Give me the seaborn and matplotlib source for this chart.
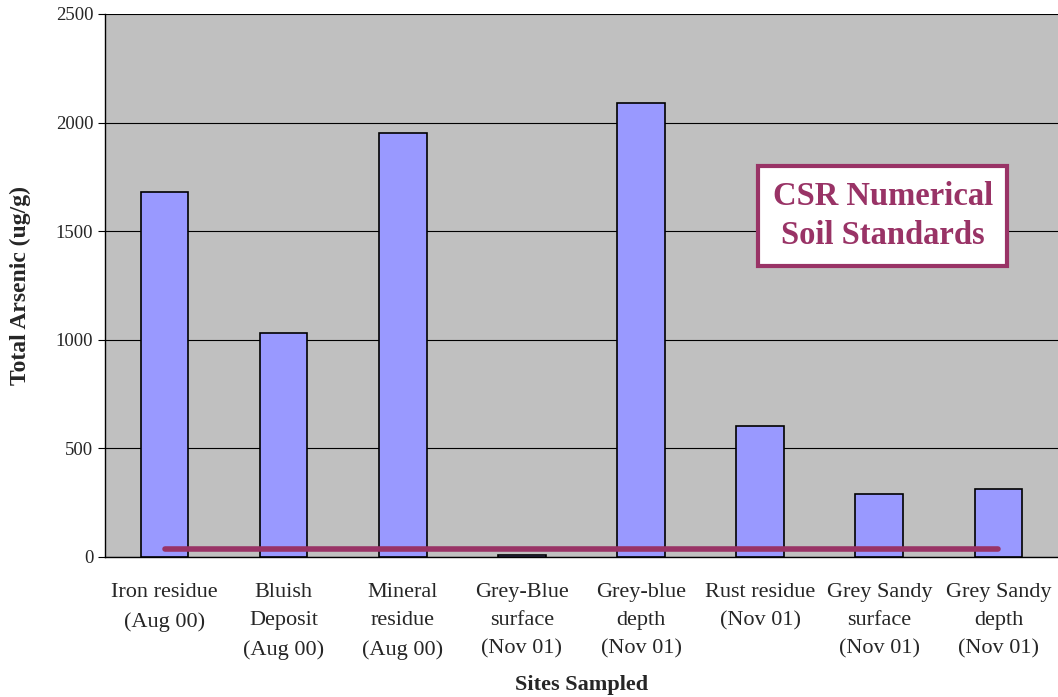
import numpy as np
import pandas as pd
import matplotlib
matplotlib.use("Agg")
import matplotlib.pyplot as plt
import seaborn as sns

sites = ["Iron residue\n(Aug 00)", "Bluish\nDeposit\n(Aug 00)", "Mineral\nresidue\n(Aug 00)",
         "Grey-Blue\nsurface\n(Nov 01)", "Grey-blue\ndepth\n(Nov 01)", "Rust residue\n(Nov 01)",
         "Grey Sandy\nsurface\n(Nov 01)", "Grey Sandy\ndepth\n(Nov 01)"]
arsenic = [1680, 1030, 1950, 8, 2090, 603, 290, 315]
csr_standard = [37] * len(sites)

df = pd.DataFrame({"Site": sites, "Arsenic": arsenic})

sns.set_style("white")
plt.rcParams['font.family'] = ['Liberation Serif', 'DejaVu Serif']

fig = plt.figure(figsize=(10.58, 6.97), dpi=100)
ax = fig.add_axes([0.0992, 0.2009, 0.9008, 0.7791])
ax.set_facecolor("#C0C0C0")

sns.barplot(data=df, x="Site", y="Arsenic", color="#9999FF", saturation=1,
            width=0.4, edgecolor="black", linewidth=1.2, ax=ax, zorder=3)

pos = np.arange(len(sites))
ax.plot(pos, csr_standard, color="#993366", linewidth=4, zorder=4, solid_capstyle="round")

ax.set_ylim(0, 2500)
ax.set_xlim(-0.5, len(sites) - 0.5)
ax.set_yticks(np.arange(0, 2501, 500))
ax.yaxis.grid(True, color="black", linewidth=0.8, zorder=0)
ax.set_axisbelow(True)

for s in ["top", "right"]:
    ax.spines[s].set_visible(False)
for s in ["left", "bottom"]:
    ax.spines[s].set_color("black")
    ax.spines[s].set_linewidth(1)

ax.set_xticks(pos)
ax.set_xticklabels(sites, fontsize=16, linespacing=1.65)
ax.tick_params(axis="x", which="major", length=0, pad=19)
ax.set_xticks(np.arange(-0.5, len(sites), 1), minor=True)
ax.tick_params(axis="x", which="minor", length=6, direction="out", color="black")
ax.tick_params(axis="y", length=5, direction="out", color="black", labelsize=13.5, left=True)

ax.set_xlabel("Sites Sampled", fontsize=16, fontweight="bold", labelpad=11)
ax.set_ylabel("Total Arsenic (ug/g)", fontsize=17, fontweight="bold", labelpad=18)

ax.text(0.816, 0.628, "CSR Numerical\nSoil Standards", transform=ax.transAxes,
        ha="center", va="center", fontsize=23.5, fontweight="bold", color="#993366",
        linespacing=1.35, zorder=6,
        bbox=dict(boxstyle="square,pad=0.45", facecolor="white", edgecolor="#993366", linewidth=3))

fig.savefig("out.png", dpi=100)
